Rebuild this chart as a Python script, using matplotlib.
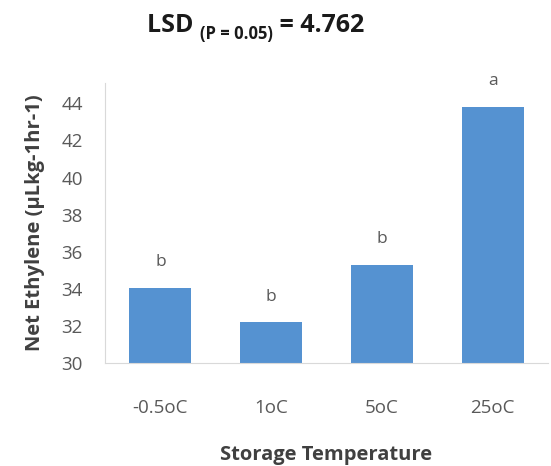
import matplotlib
matplotlib.use("Agg")
import matplotlib.pyplot as plt

categories = ["-0.5oC", "1oC", "5oC", "25oC"]
values = [34.05, 32.2, 35.3, 43.8]
letters = ["b", "b", "b", "a"]
yticks = [30, 32, 34, 36, 38, 40, 42, 44]

plt.rcParams['font.family'] = ['Open Sans', 'DejaVu Sans']

fig = plt.figure(figsize=(5.51, 4.66), dpi=100)
ax = fig.add_axes([0.1906, 0.221, 0.804, 0.601])

x = range(len(categories))
ax.bar(x, values, width=0.56, color='#5592D1')
ax.set_ylim(30, 45.1)
ax.set_xlim(-0.5, 3.5)
ax.set_yticks(yticks)
ax.set_xticks(list(x))
ax.set_xticklabels(categories)

for i, (v, l) in enumerate(zip(values, letters)):
    ax.text(i, v + 0.95, l, ha='center', va='bottom', fontsize=12.5, color='#595959')

for s in ['top', 'right']:
    ax.spines[s].set_visible(False)
for s in ['left', 'bottom']:
    ax.spines[s].set_color('#D9D9D9')
ax.tick_params(axis='both', length=0, labelsize=13.5, colors='#595959')
ax.tick_params(axis='y', pad=16)
ax.tick_params(axis='x', pad=26)

ax.set_ylabel("Net Ethylene (µLkg-1hr-1)", fontsize=14.5, fontweight='bold', color='#404040', labelpad=12)
ax.set_xlabel("Storage Temperature", fontsize=14.5, fontweight='bold', color='#404040', labelpad=20)

# Title built from pieces: main text with a subscript
renderer = fig.canvas.get_renderer()
W = fig.bbox.width
H = fig.bbox.height
base_y = 1 - 32 / H
sub_y = 1 - 39 / H
parts = [
    ("LSD ", 18, base_y),
    ("(P = 0.05)", 12, sub_y),
    (" = 4.762", 18, base_y),
]
texts = []
xpos = 0.0
for s, fs, yy in parts:
    t = fig.text(xpos, yy, s, fontsize=fs, fontweight='bold', color='#1a1a1a',
                 ha='left', va='baseline')
    bb = t.get_window_extent(renderer)
    texts.append(t)
    xpos = bb.x1 / W
total = xpos
start = 256 / W - total / 2
for t in texts:
    px, py = t.get_position()
    t.set_position((px + start, py))

fig.savefig("out.png", dpi=100)
